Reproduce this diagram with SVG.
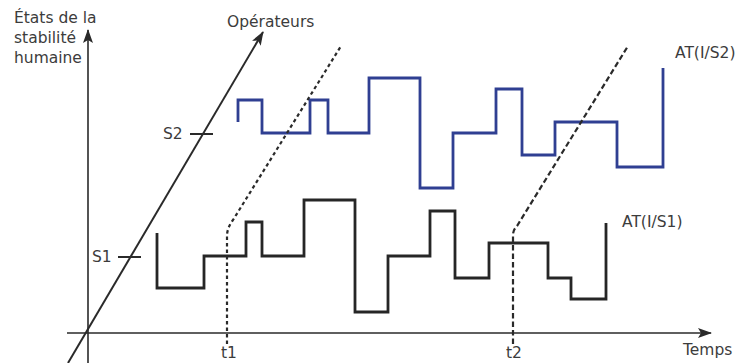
<svg xmlns="http://www.w3.org/2000/svg" width="739" height="363" viewBox="0 0 739 363">
  <style>
    .lbl { font-family: "DejaVu Sans", "Liberation Sans", sans-serif; font-size: 15.5px; fill: #3c3c3c; }
    .axis { stroke: #2a2a2a; stroke-width: 1.6; fill: none; }
    .tick { stroke: #2a2a2a; stroke-width: 2; fill: none; }
    .black { stroke: #262626; stroke-width: 2.8; fill: none; stroke-linejoin: miter; }
    .blue { stroke: #2f3f92; stroke-width: 2.8; fill: none; stroke-linejoin: miter; }
    .dash1 { stroke: #2a2a2a; stroke-width: 2.2; fill: none; stroke-dasharray: 3.5 3; }
    .dash2 { stroke: #2a2a2a; stroke-width: 2.2; fill: none; stroke-dasharray: 5.5 3; }
  </style>
  <defs>
    <marker id="arr" viewBox="0 0 14 10" refX="13" refY="5" markerWidth="14" markerHeight="10" markerUnits="userSpaceOnUse" orient="auto">
      <path d="M0,0 L14,5 L0,10 L3,5 Z" fill="#2a2a2a"/>
    </marker>
  </defs>
  <rect width="739" height="363" fill="#ffffff"/>

  <g id="axes">
    <line id="y-axis" class="axis" x1="88" y1="363" x2="88" y2="30" marker-end="url(#arr)"/>
    <line id="x-axis" class="axis" x1="67" y1="333" x2="711" y2="333" marker-end="url(#arr)"/>
    <line id="op-axis" class="axis" x1="68" y1="363" x2="263" y2="32" marker-end="url(#arr)" style="stroke-width:2"/>
  </g>

  <g id="labels">
    <text class="lbl" x="14" y="23">États de la</text>
    <text class="lbl" x="14" y="43">stabilité</text>
    <text class="lbl" x="14" y="63">humaine</text>
    <text class="lbl" x="227" y="27">Opérateurs</text>
    <text class="lbl" x="675" y="58">AT(I/S2)</text>
    <text class="lbl" x="622" y="227">AT(I/S1)</text>
    <text class="lbl" x="683" y="355">Temps</text>
    <text class="lbl" x="221" y="358">t1</text>
    <text class="lbl" x="506" y="358">t2</text>
  </g>

  <g id="S2">
    <line class="tick" x1="190" y1="134" x2="213" y2="134"/>
    <text class="lbl" x="163" y="139">S2</text>
  </g>
  <g id="S1">
    <line class="tick" x1="118" y1="257" x2="141" y2="257"/>
    <text class="lbl" x="92" y="262">S1</text>
  </g>

  <g id="curve-S2">
    <polyline class="blue" points="238,122 238,100 262,100 262,133 310,133 310,100 328,100 328,133 369,133 369,78 420,78 420,188 453,188 453,133 496,133 496,89 522,89 522,155 555,155 555,122 617,122 617,167 663,167 663,68"/>
  </g>

  <g id="curve-S1">
    <polyline class="black" points="157,233 157,288 204,288 204,256 246,256 246,222 262,222 262,256 304,256 304,200 355,200 355,312 388,312 388,256 430,256 430,211 455,211 455,278 489,278 489,243 548,243 548,278 571,278 571,299 606,299 606,223"/>
  </g>

  <g id="connectors">
    <path id="t1-line" class="dash1" d="M227,344 V236 Q227,228 233,220 L341,46"/>
    <path id="t2-line" class="dash2" d="M513,344 V235 Q513,230 517,226 L628,46"/>
  </g>
</svg>
